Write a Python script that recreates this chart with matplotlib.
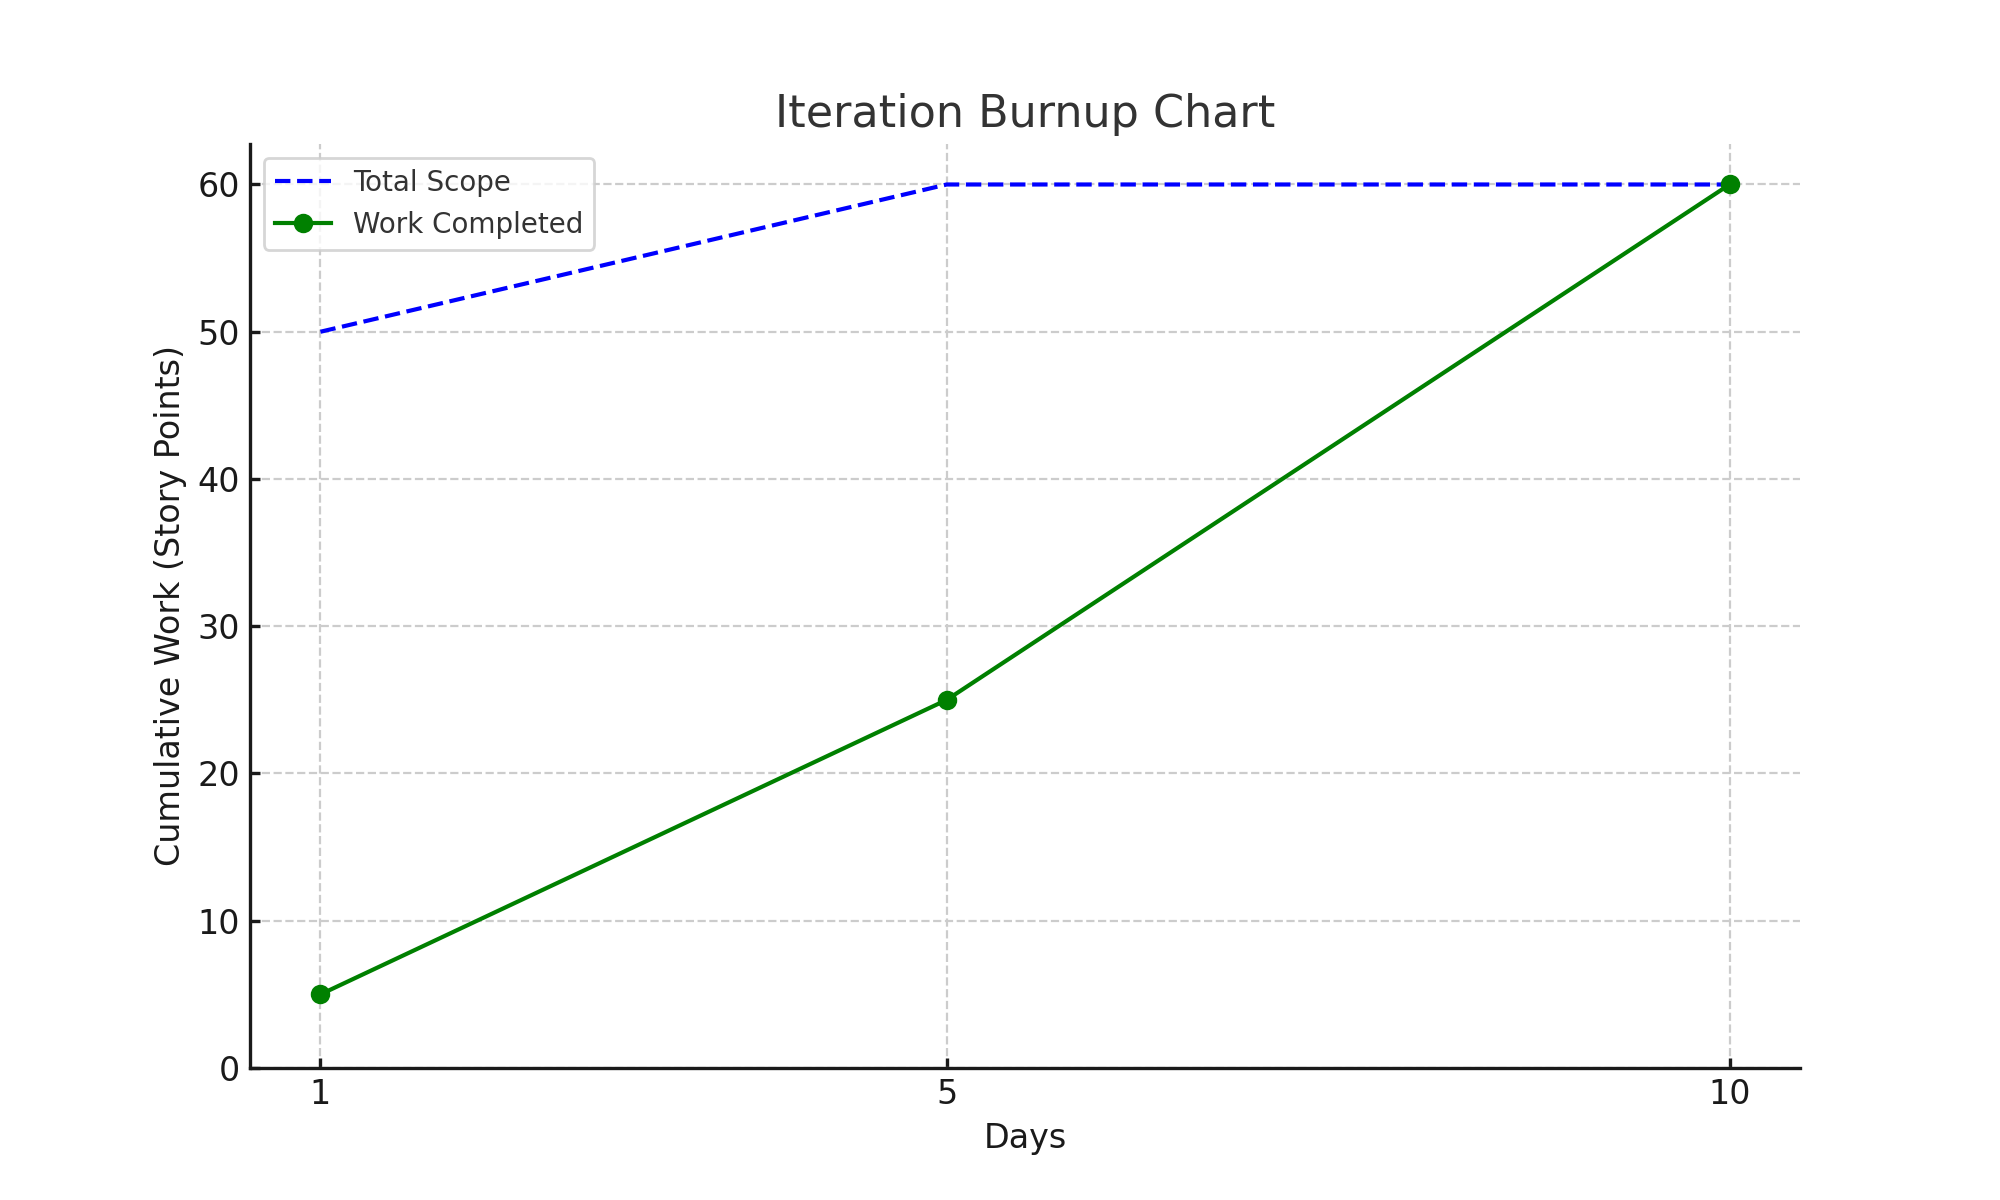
import matplotlib
matplotlib.use("Agg")
import matplotlib.pyplot as plt

days = [1, 5, 10]
total_scope = [50, 60, 60]
work_completed = [5, 25, 60]
xticks = [1, 5, 10]

plt.rcParams['font.family'] = ['DejaVu Sans']

fig, ax = plt.subplots(figsize=(10, 6), dpi=200)
ax.plot(days, total_scope, linestyle='--', color='blue', linewidth=1.5, label='Total Scope')
ax.plot(days, work_completed, marker='o', color='green', linewidth=1.5, markersize=6, label='Work Completed')

ax.set_title('Iteration Burnup Chart', fontsize=16, color='#333333')
ax.set_xlabel('Days', fontsize=12, color='#1a1a1a')
ax.set_ylabel('Cumulative Work (Story Points)', fontsize=12, color='#1a1a1a')
ax.set_xticks(xticks)
ax.set_ylim(bottom=0)
ax.tick_params(direction='in', labelsize=12, colors='#1a1a1a', length=3.5, width=1.2)
ax.grid(True, linestyle='--', color='#cccccc', linewidth=0.8)
ax.set_axisbelow(True)
for s in ['top', 'right']:
    ax.spines[s].set_visible(False)
for s in ['left', 'bottom']:
    ax.spines[s].set_linewidth(1.2)
    ax.spines[s].set_color('#1a1a1a')

leg = ax.legend(loc='upper left', fontsize=10, frameon=True, fancybox=True)
leg.get_frame().set_edgecolor('#cccccc')
for t in leg.get_texts():
    t.set_color('#333333')

fig.savefig('out.png', dpi=200)
